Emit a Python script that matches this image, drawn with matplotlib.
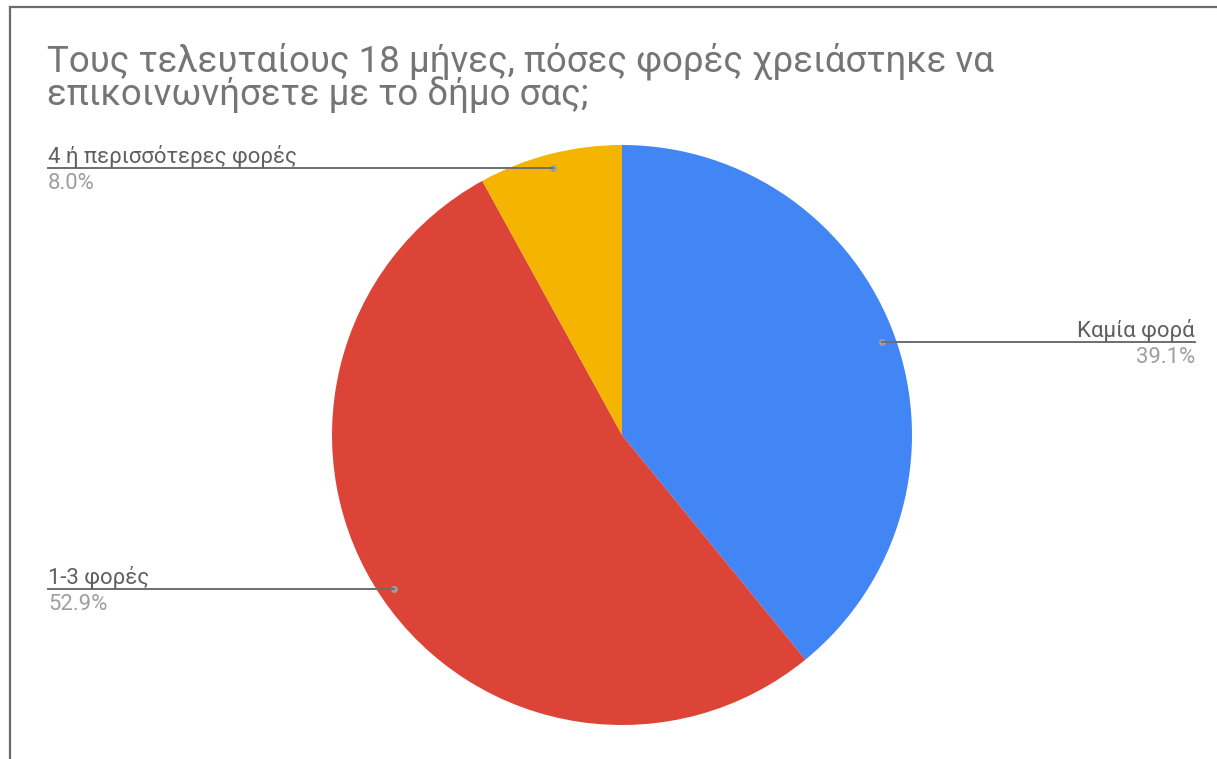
import matplotlib
matplotlib.use("Agg")
import matplotlib.pyplot as plt
from matplotlib.lines import Line2D
import numpy as np

plt.rcParams['font.family'] = ['Roboto', 'DejaVu Sans']

title_lines = ["Τους τελευταίους 18 μήνες, πόσες φορές χρειάστηκε να",
               "επικοινωνήσετε με το δήμο σας;"]
categories = ["Καμία φορά", "1-3 φορές", "4 ή περισσότερες φορές"]
values = [39.1, 52.9, 8.0]
colors = ["#4285F4", "#DB4437", "#F4B400"]

W, H = 1217, 759
fig = plt.figure(figsize=(W / 100, H / 100), dpi=100)
fig.patch.set_facecolor("white")

def fx(px):
    return px / W

def fy(py):
    return 1 - py / H

# partial border (left + top) like the screenshot
fig.add_artist(Line2D([fx(10), fx(10)], [fy(7), 0], color="#6b6b6b", lw=1.6, transform=fig.transFigure))
fig.add_artist(Line2D([fx(10), 1], [fy(7), fy(7)], color="#6b6b6b", lw=1.6, transform=fig.transFigure))

# title
for t, base in zip(title_lines, [71, 105]):
    fig.text(fx(47), fy(base), t, ha="left", va="baseline", fontsize=26.4, color="#757575")

cx, cy, R = 622, 435, 290
ax = fig.add_axes([fx(cx - R), fy(cy + R), 2 * R / W, 2 * R / H])
wedges, _ = ax.pie(values, colors=colors, startangle=90, counterclock=False,
                   radius=1, wedgeprops=dict(linewidth=0))
ax.set_xlim(-1, 1)
ax.set_ylim(-1, 1)
ax.set_aspect("equal")
ax.axis("off")

sides = ["right", "left", "left"]
edge_px = {"right": 1195, "left": 48}
cum = np.cumsum([0] + values)
for i, (cat, v) in enumerate(zip(categories, values)):
    mid = (cum[i] + v / 2) / 100 * 360
    theta = np.deg2rad(90 - mid)
    r = 0.95
    x_d = r * np.cos(theta)
    y_d = r * np.sin(theta)
    px = cx + x_d * R
    py = cy - y_d * R
    side = sides[i]
    ex = edge_px[side]
    fig.add_artist(Line2D([fx(px), fx(ex)], [fy(py), fy(py)], color="#6e6e6e", lw=1.4,
                          transform=fig.transFigure))
    ax.plot([x_d], [y_d], "o", color="#9e9e9e", ms=5, mew=0, zorder=5)
    ha = "right" if side == "right" else "left"
    fig.text(fx(ex), fy(py - 5), cat, ha=ha, va="baseline", fontsize=15.9, color="#5f5f5f")
    fig.text(fx(ex), fy(py + 21), f"{v:.1f}%", ha=ha, va="baseline", fontsize=15.9, color="#9e9e9e")

fig.savefig("out.png", dpi=100, facecolor="white")
